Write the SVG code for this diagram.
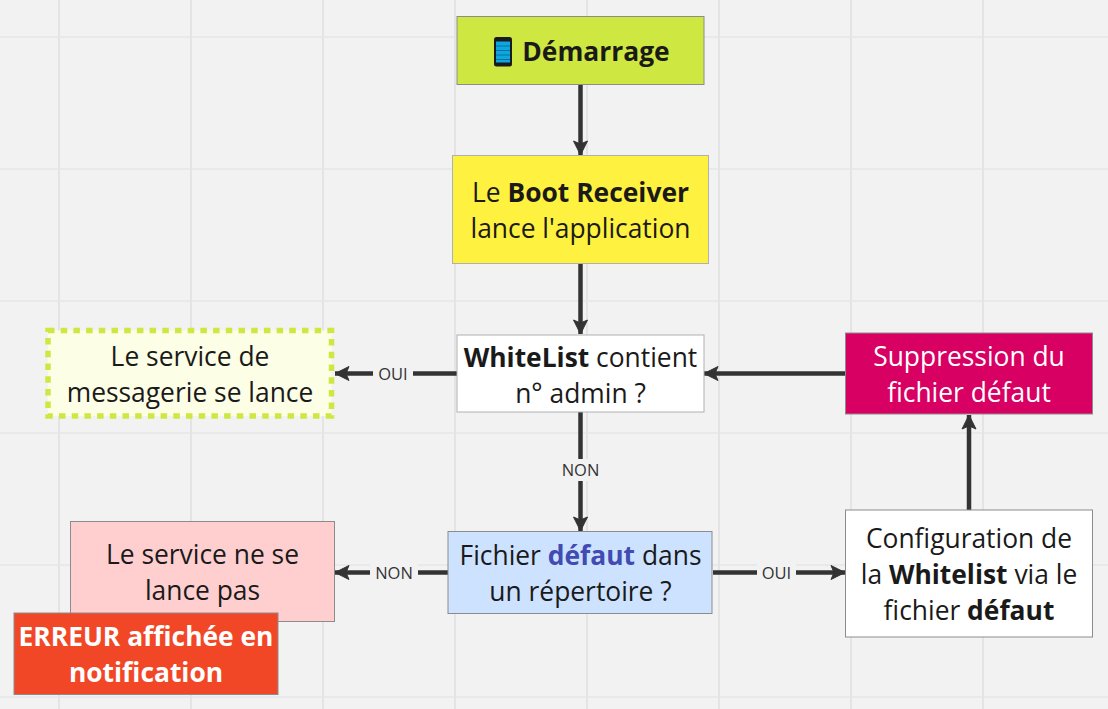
<svg xmlns="http://www.w3.org/2000/svg" width="1108" height="709" viewBox="0 0 1108 709">
<style>
text{font-family:"Open Sans","Noto Sans",sans-serif;font-size:26.4px;fill:#1a1a1a;text-anchor:middle}
.b{font-weight:700}
.w{fill:#fff}
.l{font-size:16.500px;fill:#333}
.n{stroke:#8c8c8c;stroke-width:1}
.p{stroke:#b0b0b0;stroke-width:1}
.g{stroke:#e4e4e4;stroke-width:2;fill:none}
.h{stroke:#e9e9e9;stroke-width:2;fill:none}
.c{stroke:#333;stroke-width:4.500;fill:none}
</style>
<defs><marker id="a" markerUnits="userSpaceOnUse" markerWidth="16" markerHeight="16" refX="15" refY="8" orient="auto"><path d="M1 1L15 8L1 15L4 8Z" fill="#333" stroke="#333" stroke-linejoin="round"/></marker></defs>
<rect width="1108" height="709" fill="#f2f2f2"/>
<path class="h" d="M0 37H1108M0 169H1108M0 301H1108M0 433H1108M0 565H1108M0 697H1108"/>
<path class="g" d="M59 0V709M191 0V709M323 0V709M455 0V709M587 0V709M719 0V709M851 0V709M983 0V709"/>
<g id="connectors">
<path class="c" marker-end="url(#a)" d="M580.500 84V155"/>
<path class="c" marker-end="url(#a)" d="M580.500 264V334"/>
<path class="c" marker-end="url(#a)" d="M457 373.500H335"/>
<path class="c" marker-end="url(#a)" d="M580.500 412V531"/>
<path class="c" marker-end="url(#a)" d="M448 572.500H335"/>
<path class="c" marker-end="url(#a)" d="M713 572.500H845"/>
<path class="c" marker-end="url(#a)" d="M969 510V415"/>
<path class="c" marker-end="url(#a)" d="M845 373.500H704"/>
<rect x="373" y="362" width="40" height="24" fill="#f2f2f2"/><text class="l" x="393" y="379.500">OUI</text>
<rect x="560" y="459" width="41" height="22" fill="#f2f2f2"/><text class="l" x="580.500" y="476">NON</text>
<rect x="370" y="561" width="48" height="24" fill="#f2f2f2"/><text class="l" x="394" y="578.500">NON</text>
<rect x="757" y="561" width="39" height="24" fill="#f2f2f2"/><text class="l" x="776.500" y="578.500">OUI</text>
</g>
<g id="demarrage"><rect class="n" x="457" y="16.500" width="247" height="68" fill="#cee741"/>
<g><rect x="494" y="37" width="18" height="29.500" rx="2.500" fill="#1a1a1a"/><rect x="496" y="41.500" width="14" height="21" fill="#0ca6e0"/><path d="M496 46H510M496 50.500H510M496 55H510M496 59.500H510" stroke="#0b6f99" stroke-width="1"/></g>
<text class="b" x="596" y="61">Démarrage</text></g>
<g id="boot"><rect class="p" x="452.500" y="155.500" width="256" height="108" fill="#fff13f"/>
<text x="580.500" y="202">Le <tspan class="b">Boot Receiver</tspan></text><text x="580.500" y="238">lance l'application</text></g>
<g id="whitelist"><rect class="p" x="457" y="335" width="247" height="77" fill="#fff"/>
<text x="580.500" y="367"><tspan class="b">WhiteList</tspan> contient</text><text x="580.500" y="403">n° admin ?</text></g>
<g id="service-ok"><rect x="48" y="330.500" width="283.500" height="85.500" fill="#fdfee6" stroke="#cee741" stroke-width="5.500" stroke-dasharray="6.500 6.200"/>
<text x="190" y="366">Le service de</text><text x="190" y="402">messagerie se lance</text></g>
<g id="suppression"><rect class="n" x="845.500" y="333" width="247" height="81" fill="#d80063"/>
<text class="w" x="969" y="366">Suppression du</text><text class="w" x="969" y="402">fichier défaut</text></g>
<g id="fichier"><rect class="n" x="448" y="531.500" width="264" height="82" fill="#cce2ff"/>
<text x="580.500" y="565">Fichier <tspan class="b" fill="#414bb2">défaut</tspan> dans</text><text x="580.500" y="601">un répertoire ?</text></g>
<g id="configuration"><rect class="n" x="845.500" y="510" width="247" height="127" fill="#fff"/>
<text x="969" y="548">Configuration de</text><text x="969" y="584">la <tspan class="b">Whitelist</tspan> via le</text><text x="969" y="620">fichier <tspan class="b">défaut</tspan></text></g>
<g id="service-ko"><rect class="n" x="70.500" y="521.500" width="264" height="100" fill="#ffcfcf"/>
<text x="202.500" y="564">Le service ne se</text><text x="202.500" y="600">lance pas</text></g>
<g id="erreur"><rect class="n" x="14" y="613" width="264" height="81.500" fill="#f24726"/>
<text class="b w" x="146" y="646">ERREUR affichée en</text><text class="b w" x="146" y="682">notification</text></g>
</svg>
